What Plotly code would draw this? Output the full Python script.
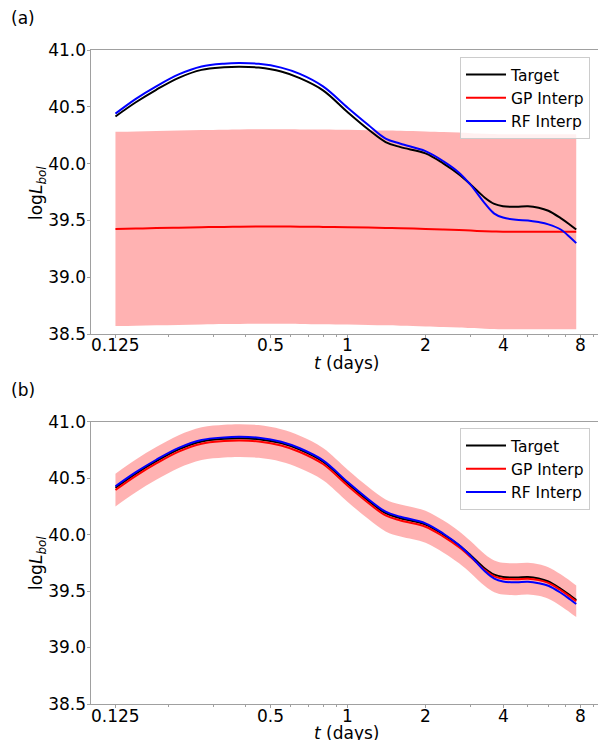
import math
import plotly.graph_objects as go

# Time grid (days) on which the light curves are tabulated
t_days = [0.125, 0.15, 0.18, 0.22, 0.27, 0.33, 0.38, 0.45, 0.55, 0.65, 0.8, 1.0,
          1.2, 1.4, 1.6, 2.0, 2.35, 2.7, 3.0, 3.4, 3.7, 4.0, 4.5, 5.0, 5.5, 6.0,
          6.7, 7.3, 7.7]

# Target bolometric light curve (log L_bol)
target = [40.415, 40.54, 40.65, 40.755, 40.825, 40.848, 40.853, 40.845, 40.81,
          40.752, 40.645, 40.45, 40.30, 40.19, 40.145, 40.09, 40.0, 39.905,
          39.815, 39.70, 39.645, 39.625, 39.62, 39.625, 39.612, 39.585, 39.52,
          39.46, 39.42]

# Panel (a): interpolations
rf_a = [40.44, 40.57, 40.68, 40.785, 40.855, 40.88, 40.885, 40.878, 40.845,
        40.79, 40.68, 40.49, 40.34, 40.22, 40.175, 40.11, 40.02, 39.92, 39.81,
        39.65, 39.56, 39.525, 39.505, 39.50, 39.485, 39.465, 39.42, 39.35, 39.30]
gp_a = [39.425, 39.428, 39.432, 39.436, 39.44, 39.443, 39.445, 39.446, 39.446,
        39.445, 39.443, 39.44, 39.437, 39.434, 39.431, 39.425, 39.42, 39.415,
        39.41, 39.405, 39.402, 39.40, 39.40, 39.40, 39.40, 39.40, 39.40, 39.40,
        39.40]
gp_sig_a = [0.855, 0.855, 0.855, 0.856, 0.856, 0.856, 0.856, 0.856, 0.856,
            0.856, 0.857, 0.857, 0.857, 0.857, 0.858, 0.858, 0.858, 0.858,
            0.858, 0.858, 0.858, 0.858, 0.858, 0.858, 0.858, 0.858, 0.858,
            0.858, 0.858]

# Panel (b): interpolations
rf_b = [40.428, 40.553, 40.663, 40.768, 40.838, 40.861, 40.866, 40.858, 40.823,
        40.765, 40.658, 40.463, 40.313, 40.203, 40.158, 40.10, 40.008, 39.907,
        39.808, 39.675, 39.61, 39.585, 39.578, 39.582, 39.57, 39.547, 39.485,
        39.425, 39.385]
gp_b = [40.395, 40.52, 40.63, 40.735, 40.805, 40.828, 40.833, 40.825, 40.79,
        40.732, 40.625, 40.43, 40.28, 40.17, 40.125, 40.07, 39.982, 39.888,
        39.80, 39.686, 39.63, 39.61, 39.605, 39.61, 39.598, 39.572, 39.508,
        39.449, 39.41]
gp_sig_b = [0.145, 0.145, 0.145, 0.145, 0.145, 0.145, 0.145, 0.145, 0.144,
            0.144, 0.143, 0.143, 0.142, 0.142, 0.142, 0.142, 0.142, 0.142,
            0.141, 0.141, 0.141, 0.141, 0.141, 0.141, 0.140, 0.140, 0.140,
            0.140, 0.140]

x_tickvals = [0.125, 0.5, 1, 2, 4, 8]
x_ticktext = ["0.125", "0.5", "1", "2", "4", "8"]
x_minorvals = [0.2, 0.3, 0.4, 0.6, 0.7, 0.8, 0.9, 3, 5, 6, 7, 9]
y_tickvals = [38.5, 39.0, 39.5, 40.0, 40.5, 41.0]

W, H = 598, 740
FONT = "DejaVu Sans"
SPINE = "#a0a0a0"
BAND = "rgba(255,0,0,0.3)"


def px_x(p):
    return p / W


def px_y(p):
    return 1 - p / H


fig = go.Figure()

panels = [
    ("x", "y", "legend", rf_a, gp_a, gp_sig_a),
    ("x2", "y2", "legend2", rf_b, gp_b, gp_sig_b),
]
for xa, ya, leg, rf, gp, sig in panels:
    upper = [m + s for m, s in zip(gp, sig)]
    lower = [m - s for m, s in zip(gp, sig)]
    fig.add_trace(go.Scatter(x=t_days, y=lower, mode="lines", line=dict(width=0, shape="spline"),
                             showlegend=False, hoverinfo="skip", xaxis=xa, yaxis=ya))
    fig.add_trace(go.Scatter(x=t_days, y=upper, mode="lines", line=dict(width=0, shape="spline"),
                             fill="tonexty", fillcolor=BAND, showlegend=False,
                             hoverinfo="skip", xaxis=xa, yaxis=ya))
    fig.add_trace(go.Scatter(x=t_days, y=target, mode="lines", name="Target",
                             line=dict(color="black", width=2, shape="spline"),
                             xaxis=xa, yaxis=ya, legend=leg))
    fig.add_trace(go.Scatter(x=t_days, y=gp, mode="lines", name="GP Interp",
                             line=dict(color="red", width=2, shape="spline"),
                             xaxis=xa, yaxis=ya, legend=leg))
    fig.add_trace(go.Scatter(x=t_days, y=rf, mode="lines", name="RF Interp",
                             line=dict(color="blue", width=2, shape="spline"),
                             xaxis=xa, yaxis=ya, legend=leg))

xdom = [px_x(90.5), 1.0]
# The tick labels of the time axis are set just under the spine as text
# placed on the axis' own (log) scale, so only tick marks come from the axis.
xaxis_common = dict(
    type="log", range=[-1.0, 0.971], domain=xdom, automargin=False,
    tickvals=x_tickvals, showticklabels=False,
    ticks="outside", ticklen=3, tickcolor=SPINE, tickwidth=1,
    minor=dict(tickvals=x_minorvals, ticks="outside", ticklen=2,
               tickcolor=SPINE, tickwidth=1),
    showline=True, linecolor=SPINE, linewidth=1, mirror=True,
    showgrid=False, zeroline=False,
)
yaxis_common = dict(
    range=[38.5, 41.0], tickvals=y_tickvals, automargin=False,
    ticktext=[f"{v:.1f}" for v in y_tickvals],
    ticklabelposition="outside", ticklabelstandoff=-3,
    ticks="outside", ticklen=3, tickcolor=SPINE, tickwidth=1,
    showline=True, linecolor=SPINE, linewidth=1,
    showgrid=False, zeroline=False,
    tickfont=dict(family=FONT, size=17, color="black"),
)

legend_common = dict(
    xanchor="left", yanchor="top", bgcolor="rgba(255,255,255,0.8)",
    bordercolor="#cccccc", borderwidth=1, itemwidth=40,
    font=dict(family=FONT, size=15.5, color="black"),
    tracegroupgap=0, traceorder="normal",
)

ylabel = "log<i>L</i><sub><i>bol</i></sub>"
xlabel = "<i>t</i> (days)"
txt_font = dict(family=FONT, size=17, color="black")

annotations = []
for xref, tag, top, bottom, ylab_c in [("x", "(a)", 50, 334, 193),
                                       ("x2", "(b)", 421.7, 704, 563)]:
    annotations.append(dict(text=tag, x=px_x(22.5), y=px_y(top - 32), xref="paper", yref="paper",
                            xanchor="center", yanchor="middle", showarrow=False, font=txt_font))
    for v, s in zip(x_tickvals, x_ticktext):
        annotations.append(dict(text=s, x=math.log10(v), y=px_y(bottom + 11.5), xref=xref,
                                yref="paper", xanchor="center", yanchor="middle",
                                showarrow=False, font=txt_font))
    annotations.append(dict(text=xlabel, x=px_x(347), y=px_y(bottom + 29), xref="paper",
                            yref="paper", xanchor="center", yanchor="middle", showarrow=False,
                            font=txt_font))
    annotations.append(dict(text=ylabel, x=px_x(37), y=px_y(ylab_c), xref="paper", yref="paper",
                            xanchor="center", yanchor="middle", showarrow=False, textangle=-90,
                            font=txt_font))

fig.update_layout(
    width=W, height=H,
    margin=dict(l=0, r=0, t=0, b=0, autoexpand=False),
    paper_bgcolor="white", plot_bgcolor="white",
    font=dict(family=FONT, color="black"),
    xaxis=dict(**xaxis_common, anchor="y"),
    yaxis=dict(**yaxis_common, domain=[px_y(334), px_y(50)], anchor="x"),
    xaxis2=dict(**xaxis_common, anchor="y2"),
    yaxis2=dict(**yaxis_common, domain=[px_y(704), px_y(421.7)], anchor="x2"),
    legend=dict(**legend_common, x=px_x(460), y=px_y(57)),
    legend2=dict(**legend_common, x=px_x(460), y=px_y(428)),
    annotations=annotations,
    showlegend=True,
)

fig.write_html("out.html")
